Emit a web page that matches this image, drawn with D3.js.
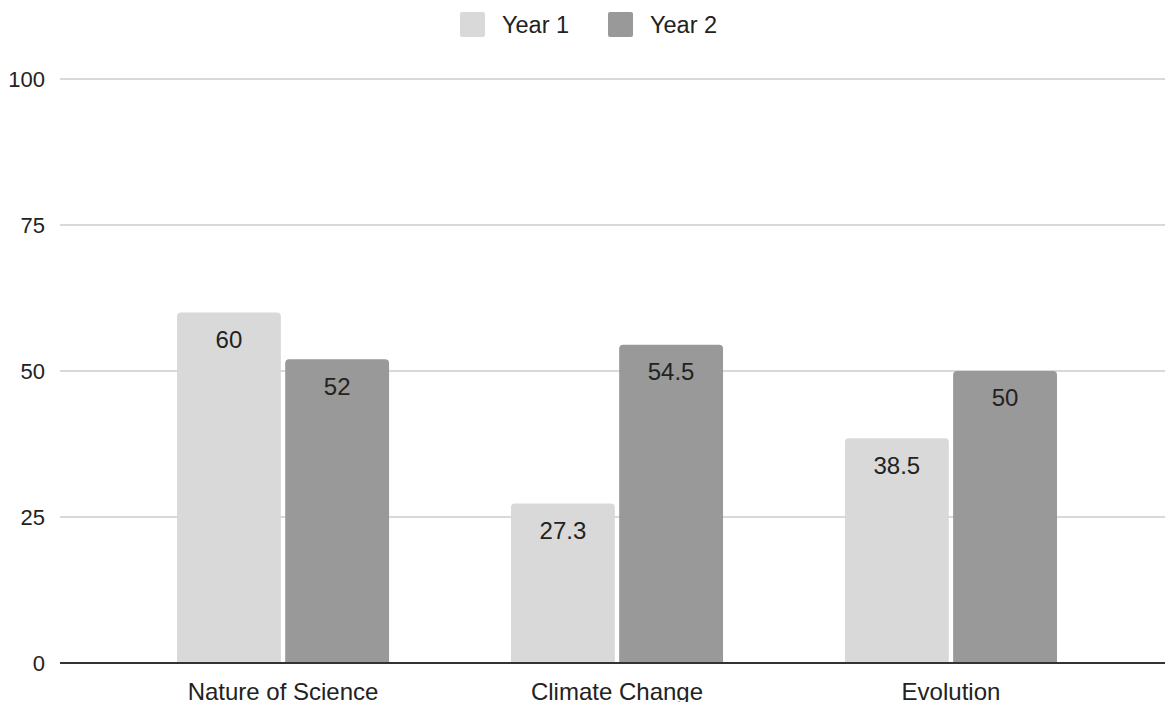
<!DOCTYPE html>
<html>
<head>
<meta charset="utf-8">
<script src="https://cdn.jsdelivr.net/npm/d3@7"></script>
<style>
  html, body { margin: 0; padding: 0; background: #fff; }
  svg { display: block; font-family: Arial, "Liberation Sans", sans-serif; }
</style>
</head>
<body>
<svg id="chart" width="1165" height="702"></svg>
<script>
// Topic categories and per-year percentages
const categories = ["Nature of Science", "Climate Change", "Evolution"];
const seriesNames = ["Year 1", "Year 2"];
const year1 = [60, 27.3, 38.5];
const year2 = [52, 54.5, 50];
const yTicks = [0, 25, 50, 75, 100];
const colors = ["#d9d9d9", "#999999"];

const svg = d3.select("#chart");
const plot = { left: 60, right: 1165, top: 79, bottom: 663 };

const y = d3.scaleLinear().domain([0, 100]).range([plot.bottom, plot.top]);
const x0 = d3.scaleBand().domain(categories).range([177, 1057]).paddingInner(0.365).paddingOuter(0);
const x1 = d3.scaleBand().domain(seriesNames).range([0, x0.bandwidth()]).paddingInner(0.04);

// Gridlines
svg.append("g").selectAll("line")
  .data(yTicks.filter(t => t !== 0))
  .join("line")
  .attr("x1", plot.left).attr("x2", plot.right)
  .attr("y1", d => y(d)).attr("y2", d => y(d))
  .attr("stroke", "#cccccc").attr("stroke-width", 1.5);

// Y tick labels
svg.append("g").selectAll("text")
  .data(yTicks)
  .join("text")
  .attr("x", 45).attr("y", d => y(d))
  .attr("dy", "0.35em")
  .attr("text-anchor", "end")
  .attr("font-size", 22)
  .attr("fill", "#222")
  .text(d => d);

// Bars with slightly rounded top corners
function topRounded(x, yTop, w, h, r) {
  r = Math.min(r, h, w / 2);
  return `M${x},${yTop + h}V${yTop + r}Q${x},${yTop} ${x + r},${yTop}H${x + w - r}Q${x + w},${yTop} ${x + w},${yTop + r}V${yTop + h}Z`;
}

const rows = categories.map((c, i) => ({ cat: c, vals: [year1[i], year2[i]] }));
const groups = svg.append("g").selectAll("g")
  .data(rows)
  .join("g")
  .attr("transform", d => `translate(${x0(d.cat)},0)`);

const bars = groups.selectAll("g")
  .data(d => d.vals.map((v, j) => ({ name: seriesNames[j], v, j })))
  .join("g");

bars.append("path")
  .attr("d", d => topRounded(x1(d.name), y(d.v), x1.bandwidth(), plot.bottom - y(d.v), 4))
  .attr("fill", d => colors[d.j]);

bars.append("text")
  .attr("x", d => x1(d.name) + x1.bandwidth() / 2)
  .attr("y", d => y(d.v) + 27)
  .attr("dy", "0.35em")
  .attr("text-anchor", "middle")
  .attr("font-size", 24)
  .attr("fill", "#222")
  .text(d => d.v);

// Baseline axis
svg.append("line")
  .attr("x1", plot.left).attr("x2", plot.right)
  .attr("y1", y(0)).attr("y2", y(0))
  .attr("stroke", "#333").attr("stroke-width", 2);

// Category labels
svg.append("g").selectAll("text")
  .data(categories)
  .join("text")
  .attr("x", d => x0(d) + x0.bandwidth() / 2)
  .attr("y", 700)
  .attr("text-anchor", "middle")
  .attr("font-size", 24)
  .attr("fill", "#222")
  .text(d => d);

// Legend
const legendItems = [
  { name: seriesNames[0], color: colors[0], x: 460 },
  { name: seriesNames[1], color: colors[1], x: 608 }
];
const lg = svg.append("g").selectAll("g").data(legendItems).join("g")
  .attr("transform", d => `translate(${d.x},12)`);
lg.append("rect").attr("width", 25).attr("height", 25).attr("rx", 2).attr("fill", d => d.color);
lg.append("text").attr("x", 42).attr("y", 13).attr("dy", "0.35em")
  .attr("font-size", 23.5).attr("fill", "#222").text(d => d.name);
</script>
</body>
</html>
